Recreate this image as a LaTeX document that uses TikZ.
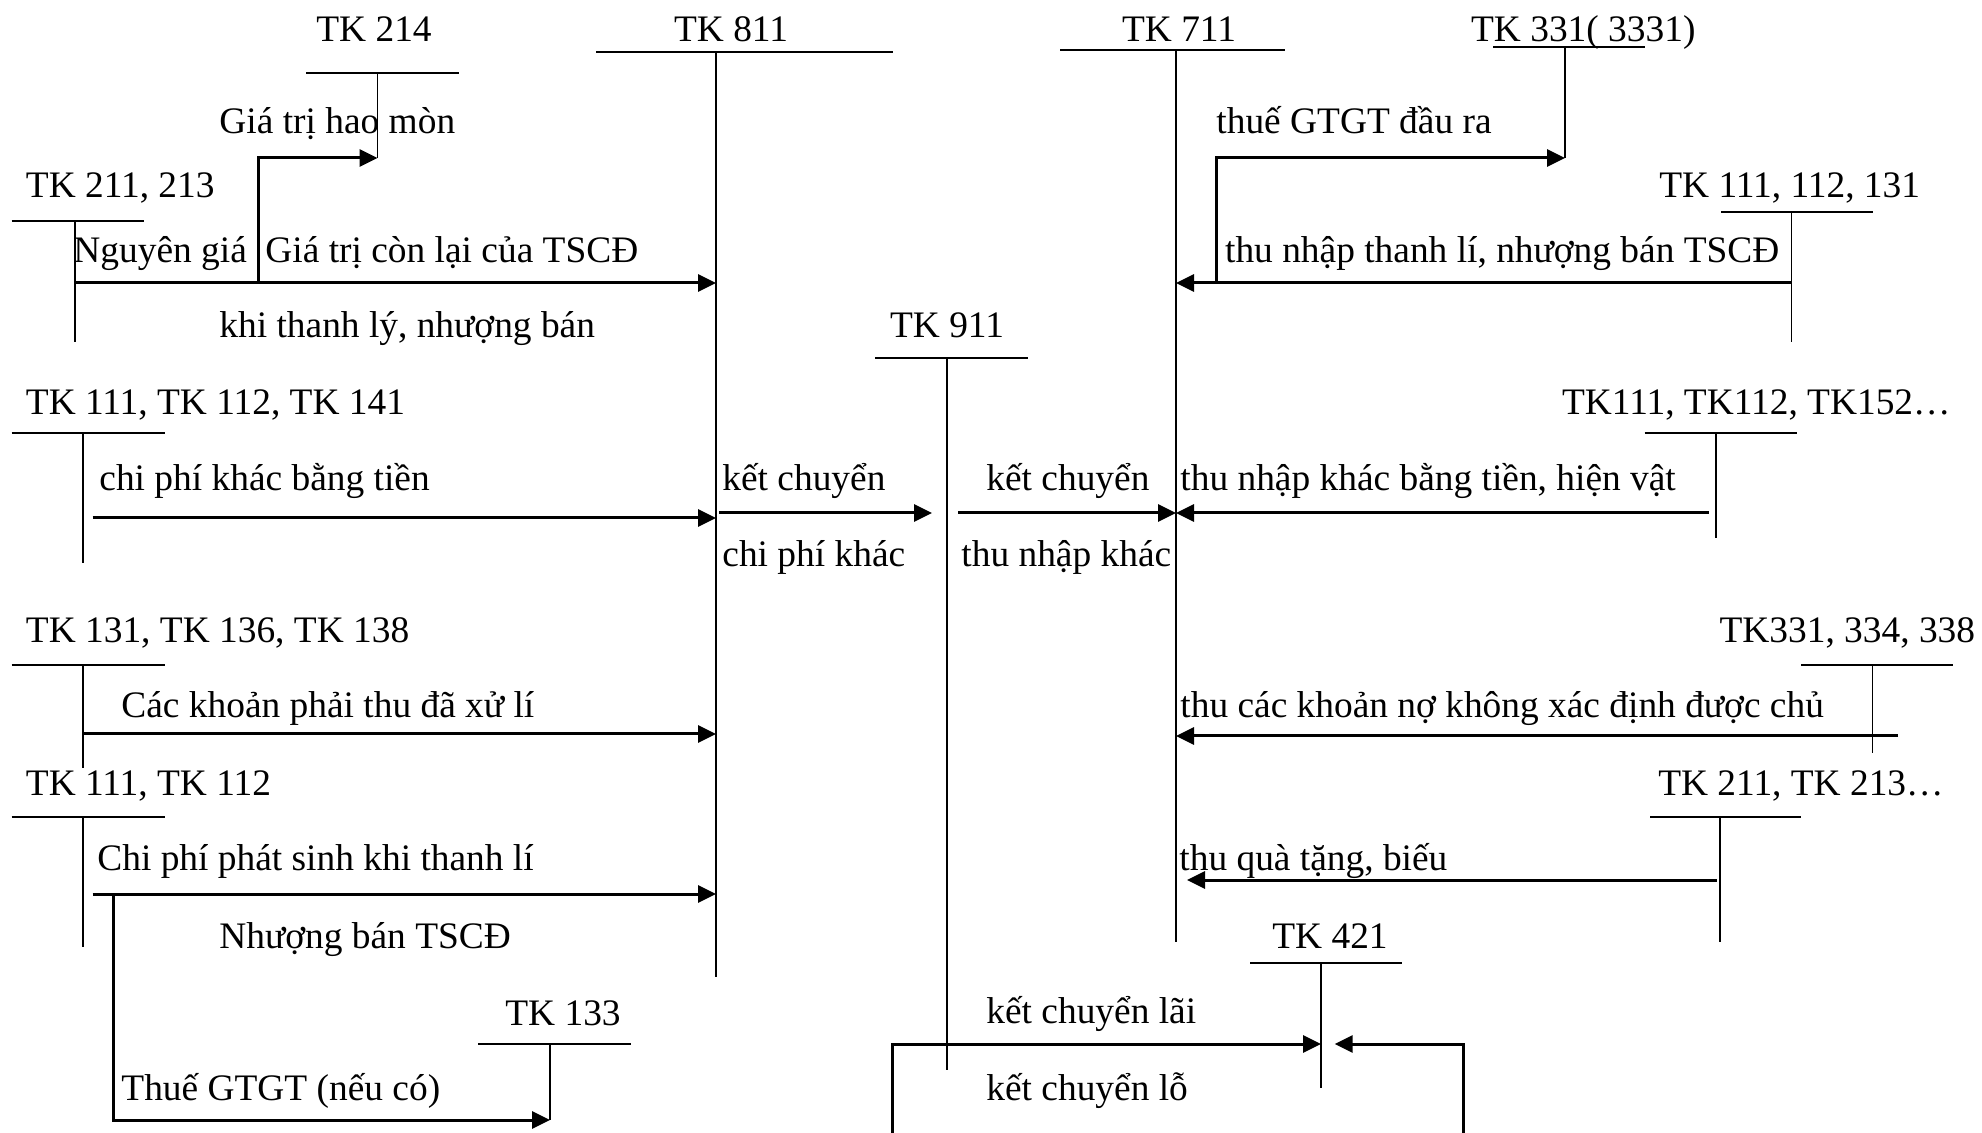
\documentclass[tikz,border=0pt]{standalone}
\usepackage{fontspec}
\setmainfont{Liberation Serif}
\usetikzlibrary{arrows.meta, positioning}

\begin{document}
\begin{tikzpicture}[x=0.5pt, y=-0.5pt, font=\fontsize{18.7}{22}\selectfont,
    lbl/.style={inner sep=0pt, anchor=base west},
    lblr/.style={inner sep=0pt, anchor=base east},
    ttl/.style={inner sep=0pt, anchor=base},
    tline/.style={line width=1pt},
    vline/.style={line width=0.6pt},
    arr/.style={line width=1.5pt, -{Triangle[length=9pt, width=8.5pt]}}]
    \useasboundingbox (0,0) rectangle (1982,1133);
    % T accounts: name / x of stem / left / right / top / bottom
    \foreach \n/\x/\l/\r/\t/\b in {hm/377.6/306/459/73/158, cp/716/596/893/52/977,
        tn/1176/1060/1285/50/942, vat/1565/1493/1645/47/158, ts/75/11.5/144/221/342,
        thr/1791.5/1721/1873/212/342, kq/947/875/1028/358/1070, tienl/83/11.5/164.5/433/563,
        tienr/1716/1644.5/1796.6/433/538, pt/83/11.5/164.5/665/768, no/1872.6/1801/1952.5/665/753,
        tl/83/11.5/164.5/817/947, qt/1720/1650/1801/817/942, ln/1321/1250/1401.6/963/1088,
        kt/550/478/631/1044/1120} {
      \draw[tline] (\l,\t) -- (\r,\t);
      \coordinate (v\n) at (\x,\t);
      \coordinate (e\n) at (\x,\b);
      \draw[vline] (v\n) -- (e\n);
    }
    % Account titles
    \node[ttl] (thm) at (374,42) {TK 214};
    \node[ttl] (tcp) at (731,42) {TK 811};
    \node[ttl] (ttn) at (1179,42) {TK 711};
    \node[lbl] (tvat) at (1470.7,42) {TK 331( 3331)};
    \node[lbl] (tts) at (25.5,198) {TK 211, 213};
    \node[lblr] (tthr) at (1920.5,198) {TK 111, 112, 131};
    \node[ttl] (tkq) at (947,338) {TK 911};
    \node[lbl] (ttienl) at (25.5,415) {TK 111, TK 112, TK 141};
    \node[lblr] (ttienr) at (1951,415) {TK111, TK112, TK152…};
    \node[lbl] (tpt) at (25.5,643) {TK 131, TK 136, TK 138};
    \node[lblr] (tno) at (1975.5,643) {TK331, 334, 338};
    \node[lbl] (ttl) at (25.5,795) {TK 111, TK 112};
    \node[lblr] (tqt) at (1944,796) {TK 211, TK 213…};
    \node[ttl] (tln) at (1330,948) {TK 421};
    \node[ttl] (tkt) at (563,1025) {TK 133};
    % Left side entries
    \draw[arr] (258,283) -- (258,158) -- (ehm);
    \draw[arr] (vts |- 0,283) -- (vcp |- 0,283);
    \node[lbl] (hmon) at (219,134) {Giá trị hao mòn};
    \node[lbl] (ngia) at (73,263) {Nguyên giá};
    \node[lbl] (clai) at (265,263) {Giá trị còn lại của TSCĐ};
    \node[lbl] (ktl) at (219,338) {khi thanh lý, nhượng bán};
    \draw[arr] (92.5,518) -- (vcp |- 0,518);
    \node[lbl] (cpt) at (99,491) {chi phí khác bằng tiền};
    \draw[arr] (vpt |- 0,734) -- (vcp |- 0,734);
    \node[lbl] (cpxl) at (121,718) {Các khoản phải thu đã xử lí};
    \draw[arr] (92.5,894) -- (vcp |- 0,894);
    \node[lbl] (cpps) at (97,870) {Chi phí phát sinh khi thanh lí};
    \node[lbl] (nbts) at (219,948) {Nhượng bán TSCĐ};
    \draw[arr] (113.5,894) -- (113.5,1120) -- (ekt);
    \node[lbl] (vatv) at (121,1100) {Thuế GTGT (nếu có)};
    % Closing to TK 911
    \draw[arr] (719,513) -- (932,513);
    \draw[arr] (958,513) -- (vtn |- 0,513);
    \node[lbl] (kc1) at (722,491) {kết chuyển};
    \node[lbl] (kc2) at (986,491) {kết chuyển};
    \node[lbl] (cpk) at (722,567) {chi phí khác};
    \node[lbl] (tnk) at (961,567) {thu nhập khác};
    % Right side entries
    \draw[arr] (1216,283) -- (1216,158) -- (evat);
    \node[lbl] (vatr) at (1216,134) {thuế GTGT đầu ra};
    \draw[arr] (vthr |- 0,283) -- (vtn |- 0,283);
    \node[lbl] (tntl) at (1224.7,263) {thu nhập thanh lí, nhượng bán TSCĐ};
    \draw[arr] (1708.5,513) -- (vtn |- 0,513);
    \node[lbl] (tnt) at (1180,491) {thu nhập khác bằng tiền, hiện vật};
    \draw[arr] (1898,736) -- (vtn |- 0,736);
    \node[lbl] (tno2) at (1180,718) {thu các khoản nợ không xác định được chủ};
    \draw[arr] (1716.5,880) -- (1187,880);
    \node[lbl] (tqb) at (1179,870) {thu quà tặng, biếu};
    % Profit or loss to TK 421
    \draw[arr] (892,1133) -- (892,1044) -- (vln |- 0,1044);
    \draw[arr] (1463.7,1133) -- (1463.7,1044) -- (1334.6,1044);
    \node[lbl] (kcl) at (986,1023) {kết chuyển lãi};
    \node[lbl] (kcn) at (986,1100) {kết chuyển lỗ};
\end{tikzpicture}
\end{document}
